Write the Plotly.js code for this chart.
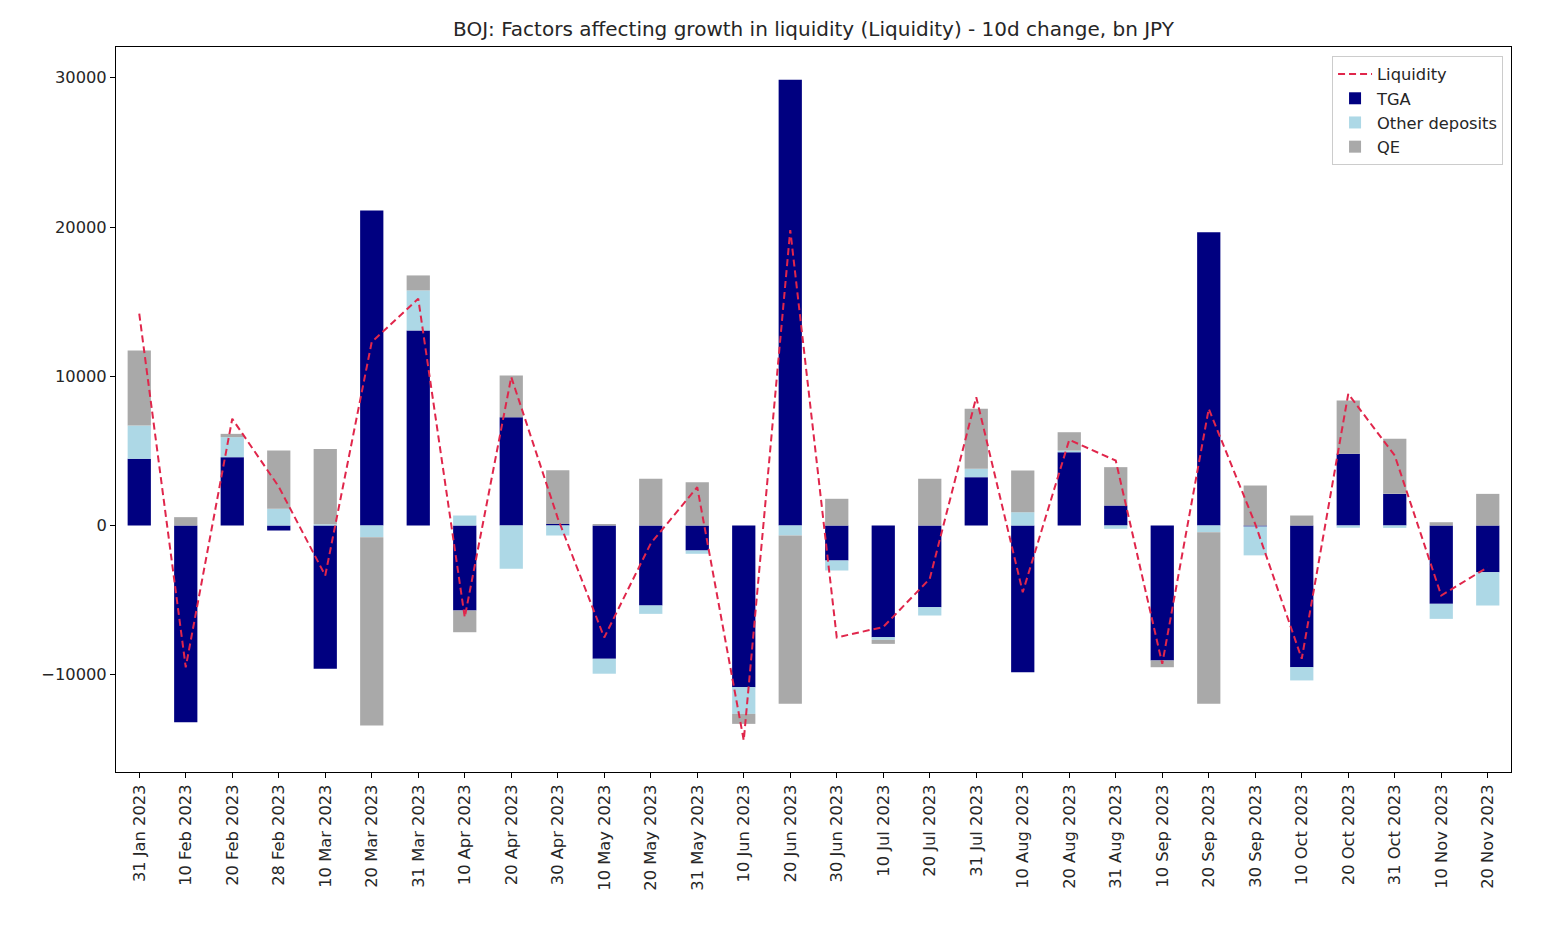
<!DOCTYPE html>
<html>
<head>
<meta charset="utf-8">
<script src="https://cdn.plot.ly/plotly-3.0.1.min.js"></script>
<style>
  html, body { margin: 0; padding: 0; background: #ffffff; }
  #chart { width: 1567px; height: 931px; }
</style>
</head>
<body>
<div id="chart"></div>
<script>
const categories = [
  "31 Jan 2023", "10 Feb 2023", "20 Feb 2023", "28 Feb 2023", "10 Mar 2023",
  "20 Mar 2023", "31 Mar 2023", "10 Apr 2023", "20 Apr 2023", "30 Apr 2023",
  "10 May 2023", "20 May 2023", "31 May 2023", "10 Jun 2023", "20 Jun 2023",
  "30 Jun 2023", "10 Jul 2023", "20 Jul 2023", "31 Jul 2023", "10 Aug 2023",
  "20 Aug 2023", "31 Aug 2023", "10 Sep 2023", "20 Sep 2023", "30 Sep 2023",
  "10 Oct 2023", "20 Oct 2023", "31 Oct 2023", "10 Nov 2023", "20 Nov 2023"
];

const liquidity = [
  14200, -9500, 7150, 2600, -3350,
  12300, 15200, -6150, 9950, 500,
  -7500, -1200, 2570, -14400, 19800,
  -7500, -6800, -3570, 8600, -4470,
  5740, 4350, -9270, 7820, 100,
  -8930, 8820, 4690, -4690, -2790
];

const tga = [
  4470, -13180, 4580, -335, -9600,
  21100, 13070, -5700, 7260, 100,
  -8930, -5360, -1675, -10830, 29860,
  -2345, -7480, -5470, 3240, -9830,
  4910, 1340, -9045, 19650, -70,
  -9490, 4800, 2120, -5250, -3130
];

const otherDeposits = [
  2230, 0, 1340, 1120, 80,
  -780, 2680, 670, -2900, -670,
  -1000, -560, -220, -1790, -670,
  -670, -180, -560, 560, 890,
  110, -220, 0, -450, -1930,
  -890, -150, -160, -1005, -2230
];

const qe = [
  5025, 560, 220, 3900, 5040,
  -12620, 1005, -1450, 2790, 3600,
  100, 3130, 2900, -670, -11280,
  1790, -270, 3130, 4020, 2790,
  1230, 2570, -450, -11500, 2680,
  670, 3575, 3690, 220, 2120
];

const FONT = "DejaVu Sans, Liberation Sans, sans-serif";

const barCommon = {
  type: "bar",
  x: categories,
  width: 0.5,
  hoverinfo: "x+y+name"
};

const traces = [
  {
    type: "scatter",
    mode: "lines",
    name: "Liquidity",
    x: categories,
    y: liquidity,
    line: { color: "#E0264B", width: 2, dash: "7px,4px" },
    legendrank: 1
  },
  Object.assign({}, barCommon, {
    name: "TGA",
    y: tga,
    marker: { color: "#000080", line: { width: 0 } },
    legendrank: 2
  }),
  Object.assign({}, barCommon, {
    name: "Other deposits",
    y: otherDeposits,
    marker: { color: "#ADD8E6", line: { width: 0 } },
    legendrank: 3
  }),
  Object.assign({}, barCommon, {
    name: "QE",
    y: qe,
    marker: { color: "#A9A9A9", line: { width: 0 } },
    legendrank: 4
  })
];

const layout = {
  width: 1567,
  height: 931,
  paper_bgcolor: "#ffffff",
  plot_bgcolor: "#ffffff",
  barmode: "relative",
  font: { family: FONT, size: 16, color: "#262626" },
  margin: { l: 116, r: 56, t: 47, b: 159, pad: 0 },
  title: {
    text: "BOJ: Factors affecting growth in liquidity (Liquidity) - 10d change, bn JPY",
    font: { family: FONT, size: 20, color: "#262626" },
    x: 0.5,
    xref: "paper",
    xanchor: "center",
    y: 1 - 29 / 931,
    yref: "container",
    yanchor: "middle"
  },
  xaxis: {
    type: "category",
    range: [-0.5, 29.5],
    showgrid: false,
    zeroline: false,
    showline: true,
    linecolor: "#000000",
    linewidth: 1,
    mirror: true,
    ticks: "outside",
    ticklen: 5,
    tickwidth: 1,
    tickcolor: "#000000",
    tickangle: -90,
    tickfont: { family: FONT, size: 16.3, color: "#262626" },
    automargin: false
  },
  yaxis: {
    range: [-16515, 32060],
    tickvals: [-10000, 0, 10000, 20000, 30000],
    ticktext: ["\u221210000", "0", "10000", "20000", "30000"],
    showgrid: false,
    zeroline: false,
    showline: true,
    linecolor: "#000000",
    linewidth: 1,
    mirror: true,
    ticks: "outside",
    ticklen: 5,
    tickwidth: 1,
    tickcolor: "#000000",
    tickfont: { family: FONT, size: 16.3, color: "#262626" },
    automargin: false
  },
  showlegend: true,
  legend: {
    x: 0.9943,
    xanchor: "right",
    y: 0.9876,
    yanchor: "top",
    bgcolor: "rgba(255,255,255,0.8)",
    bordercolor: "#cccccc",
    borderwidth: 1,
    font: { family: FONT, size: 16.3, color: "#262626" },
    tracegroupgap: 0,
    itemwidth: 34,
    traceorder: "normal"
  }
};

Plotly.newPlot("chart", traces, layout, { displayModeBar: false, staticPlot: true });
</script>
</body>
</html>
